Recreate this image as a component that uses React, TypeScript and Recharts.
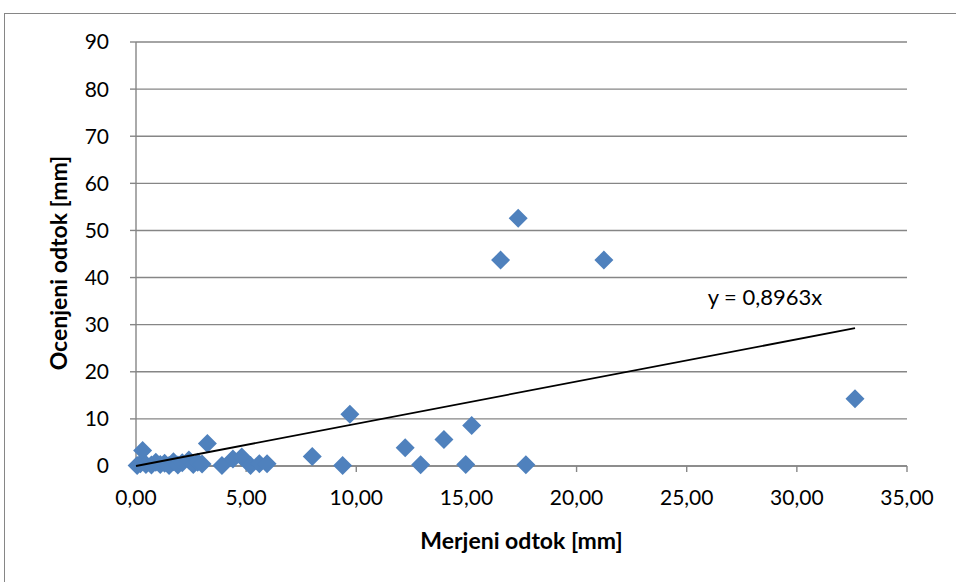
import { ScatterChart, Scatter, XAxis, YAxis, CartesianGrid, ReferenceDot, Label } from "recharts";

// measured runoff [mm]
const measured = [
  0.05, 0.2, 0.3, 0.45, 0.7, 0.9, 1.1, 1.3, 1.5, 1.7, 1.9, 2.1, 2.4, 2.6, 2.8, 3.0,
  3.24, 3.9, 4.4, 4.8, 5.2, 5.6, 5.95, 8.0, 9.38, 9.71, 12.22, 12.92, 13.98, 14.97,
  15.24, 16.55, 17.35, 17.7, 21.24, 32.64,
];
// estimated runoff [mm]
const estimated = [
  0.1, 0.5, 3.3, 0.3, 0.2, 0.8, 0.3, 0.6, 0.1, 0.9, 0.2, 0.7, 1.3, 0.3, 0.8, 0.4,
  4.8, 0.1, 1.5, 1.9, 0.1, 0.5, 0.5, 2.0, 0.1, 11.0, 3.9, 0.25, 5.6, 0.3,
  8.6, 43.7, 52.6, 0.25, 43.7, 14.3,
];

const xTicks = [0, 5, 10, 15, 20, 25, 30, 35];
const yTicks = [0, 10, 20, 30, 40, 50, 60, 70, 80, 90];
const slope = 0.8963;
const trendLabel = "y = 0,8963x";

const points = measured.map((x, i) => ({ x, y: estimated[i] }));
const xMax = Math.max(...measured);
const trend = [
  { x: 0, y: 0 },
  { x: xMax, y: slope * xMax },
];

const FONT = "Lato, 'Open Sans', sans-serif";
const GRID = "#868686";

const Diamond = (props: any) => {
  const { cx, cy } = props;
  const r = 9.5;
  return (
    <polygon
      points={`${cx},${cy - r} ${cx + r},${cy} ${cx},${cy + r} ${cx - r},${cy}`}
      fill="#4f81bd"
    />
  );
};

export default function App() {
  return (
    <div style={{ position: "absolute", left: 0, top: 0, width: 956, height: 582, overflow: "hidden", background: "#fff" }}>
      <div style={{ position: "absolute", left: 4, top: 13, width: 1000, height: 700, border: "1px solid #868686" }} />
      <ScatterChart
        width={956}
        height={582}
        margin={{ top: 42, right: 49, bottom: 56, left: 0 }}
        style={{ position: "absolute", left: 0, top: 0, fontFamily: FONT }}
      >
        <CartesianGrid vertical={false} stroke={GRID} strokeWidth={1.4} />
        <XAxis
          type="number"
          dataKey="x"
          domain={[0, 35]}
          ticks={xTicks}
          interval={0}
          height={60}
          stroke={GRID}
          strokeWidth={1.4}
          tickSize={6}
          tickMargin={18}
          tick={{ fill: "#000", fontSize: 21, fontFamily: FONT }}
          tickFormatter={(v: number) => v.toFixed(2).replace(".", ",")}
        >
          <Label
            content={({ viewBox }: any) => (
              <text
                x={viewBox.x + viewBox.width / 2}
                y={549}
                textAnchor="middle"
                fontSize={23}
                fontWeight="bold"
                fontFamily={FONT}
                fill="#000"
              >
                Merjeni odtok [mm]
              </text>
            )}
          />
        </XAxis>
        <YAxis
          type="number"
          dataKey="y"
          domain={[0, 90]}
          ticks={yTicks}
          interval={0}
          width={136}
          stroke={GRID}
          strokeWidth={1.4}
          tickSize={6}
          tickMargin={21}
          tick={{ fill: "#000", fontSize: 21, fontFamily: FONT }}
        >
          <Label
            content={({ viewBox }: any) => {
              const cx = 67;
              const cy = viewBox.y + viewBox.height / 2 + 9;
              return (
                <text
                  x={cx}
                  y={cy}
                  transform={`rotate(-90, ${cx}, ${cy})`}
                  textAnchor="middle"
                  fontSize={23}
                  fontWeight="bold"
                  fontFamily={FONT}
                  fill="#000"
                >
                  Ocenjeni odtok [mm]
                </text>
              );
            }}
          />
        </YAxis>
        <Scatter data={points} shape={Diamond} isAnimationActive={false} />
        <Scatter
          data={trend}
          line={{ stroke: "#000", strokeWidth: 1.8 }}
          shape={() => <g />}
          isAnimationActive={false}
        />
        <ReferenceDot
          x={28.55}
          y={35.6}
          ifOverflow="visible"
          shape={(p: any) => (
            <text x={p.cx} y={p.cy + 7} textAnchor="middle" fontSize={22} fontFamily={FONT} fill="#000">
              {trendLabel}
            </text>
          )}
        />
      </ScatterChart>
    </div>
  );
}
